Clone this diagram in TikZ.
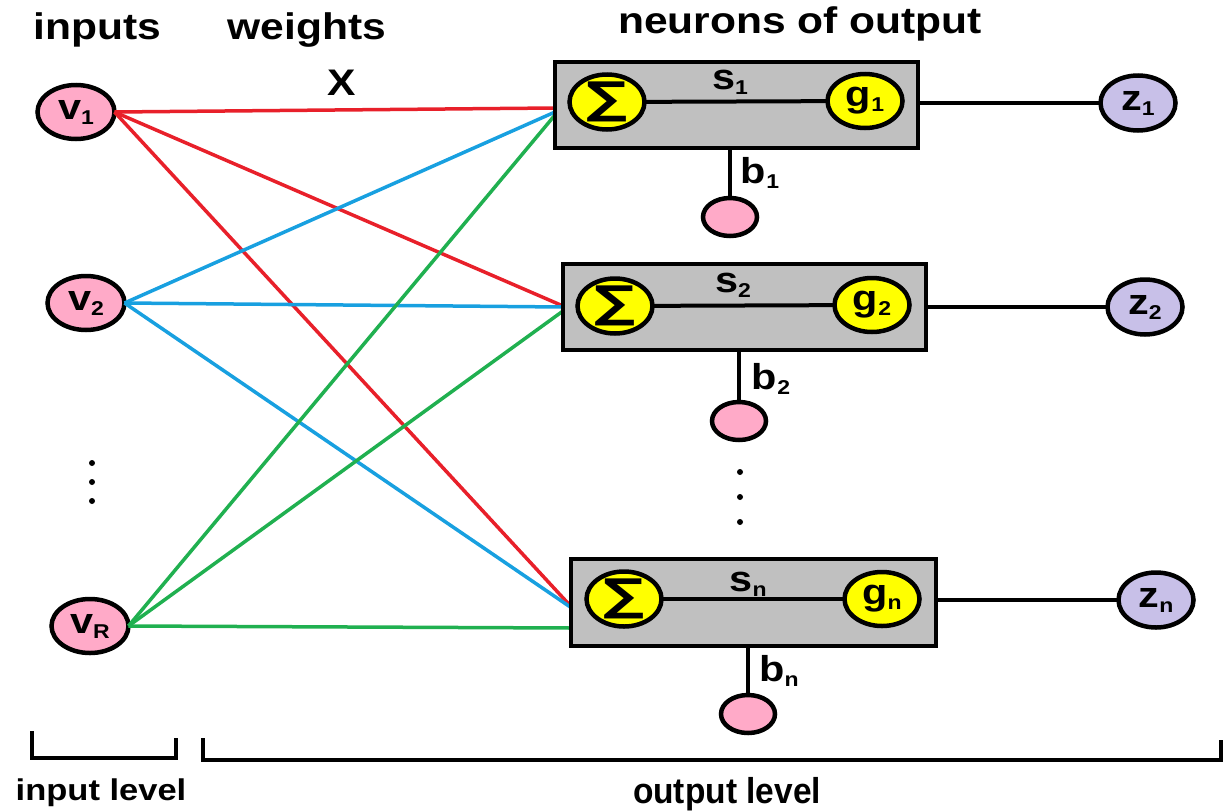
\documentclass[tikz,border=0pt]{standalone}
\usepackage{fontspec}
\setmainfont[FakeStretch=1.15]{Liberation Sans}
\newfontfamily\condfont[FakeStretch=0.93]{Liberation Sans}
\newfontfamily\symfont[FakeStretch=1.3]{DejaVu Sans}
\usetikzlibrary{shapes.geometric,calc}
\definecolor{vpink}{RGB}{255,170,200}
\definecolor{zlav}{RGB}{200,192,232}
\definecolor{yel}{RGB}{255,255,0}
\definecolor{boxgray}{RGB}{192,192,192}
\definecolor{lred}{RGB}{232,32,42}
\definecolor{lblue}{RGB}{24,160,224}
\definecolor{lgreen}{RGB}{32,176,80}
\newcommand\vsub[2]{#1\raisebox{-5pt}{\fontsize{20}{20}\selectfont #2}}
\begin{document}
\begin{tikzpicture}[x=1pt,y=-1pt,
  every node/.style={inner sep=0pt, outer sep=0pt},
  lab/.style={font=\fontsize{36}{38}\selectfont\bfseries},
  innode/.style={ellipse, draw, line width=4.5pt, fill=vpink, minimum width=77pt, minimum height=54pt, lab},
  outnode/.style={ellipse, draw, line width=4.5pt, fill=zlav, minimum width=75pt, minimum height=55pt, lab},
  sumnode/.style={ellipse, draw, line width=4.5pt, fill=yel, minimum width=75pt, minimum height=55pt},
  actnode/.style={ellipse, draw, line width=4.5pt, fill=yel, minimum width=75pt, minimum height=54pt, lab},
  biasnode/.style={ellipse, draw, line width=4.5pt, fill=vpink, minimum width=54pt, minimum height=38pt},
  neuronbox/.style={rectangle, draw, line width=4.5pt, fill=boxgray, minimum width=363pt, minimum height=86pt},
  conn/.style={line width=3.5pt},
  wire/.style={line width=4pt},
  dot/.style={circle, fill=black, minimum size=6pt},
  headtext/.style={font=\fontsize{37}{40}\selectfont\bfseries},
  sigmatext/.style={font=\symfont\bfseries\fontsize{44}{44}\selectfont},
  bracket/.style={line width=4.5pt}]
\useasboundingbox (0,0) rectangle (1230,811);

% headers
\node[headtext] (hin) at (97,30) {inputs};
\node[headtext] (hw) at (307,30) {weights};
\node[headtext] (hno) at (800,24) {neurons of output};
\node[headtext] (hx) at (342,83) {X};

% inputs
\node[innode] (v1) at (76,112) {\vsub{v}{1}};
\node[innode] (v2) at (86,303) {\vsub{v}{2}};
\node[innode] (vR) at (90,626) {\vsub{v}{R}};
\node[dot] (ld1) at (92,463) {};
\node[dot] (ld2) at (92,482) {};
\node[dot] (ld3) at (92,501) {};

% neuron box positions
\coordinate (c1) at (736.5,105);
\coordinate (c2) at (744.5,307);
\coordinate (cn) at (753.5,602.5);
\path (c1) node[neuronbox, draw=none, fill=none] (box1) {};
\path (c2) node[neuronbox, draw=none, fill=none] (box2) {};
\path (cn) node[neuronbox, draw=none, fill=none, minimum width=365pt, minimum height=87pt] (boxn) {};

% weighted connectors
\draw[conn, lred] (v1.east) -- ([yshift=-3pt]box1.west);
\draw[conn, lred] (v1.east) -- ([yshift=1pt]box2.west);
\draw[conn, lred] (v1.east) -- ([yshift=-4pt]boxn.west);
\draw[conn, lblue] (v2.east) -- ([yshift=-7pt]box1.west);
\draw[conn, lblue] (v2.east) -- (box2.west);
\draw[conn, lblue] (v2.east) -- ([yshift=-5pt]boxn.west);
\draw[conn, lgreen] (vR.east) -- ([yshift=-10pt]box1.west);
\draw[conn, lgreen] (vR.east) -- ([yshift=-4pt]box2.west);
\draw[conn, lgreen] (vR.east) -- ([yshift=-25.5pt]boxn.west);

% boxes
\node[neuronbox] (b1box) at (c1) {};
\node[neuronbox] (b2box) at (c2) {};
\node[neuronbox, minimum width=365pt, minimum height=87pt] (bnbox) at (cn) {};

% neuron 1
\node[sumnode] (sig1) at (607,102) {};
\node[sigmatext] (sig1t) at (sig1) {∑};
\node[actnode] (g1) at (865,101) {\vsub{g}{1}};
\draw[wire] (sig1) -- (g1);
\node[lab] (s1) at (730,82) {\vsub{s}{1}};
\node[biasnode] (bias1) at (730,217) {};
\draw[wire] (bias1) -- (bias1 |- b1box.south);
\node[lab] (bl1) at (760,173) {\vsub{b}{1}};
\node[outnode] (z1) at (1138,103) {\vsub{z}{1}};
\draw[conn] (b1box.east |- z1) -- (z1);

% neuron 2
\node[sumnode] (sig2) at (615,306) {};
\node[sigmatext] (sig2t) at (sig2) {∑};
\node[actnode] (g2) at (872,305) {\vsub{g}{2}};
\draw[wire] (sig2) -- (g2);
\node[lab] (s2) at (733,285) {\vsub{s}{2}};
\node[biasnode] (bias2) at (739,421) {};
\draw[wire] (bias2) -- (bias2 |- b2box.south);
\node[lab] (bl2) at (771,379) {\vsub{b}{2}};
\node[outnode] (z2) at (1145,307) {\vsub{z}{2}};
\draw[conn] (b2box.east |- z2) -- (z2);

\node[dot] (md1) at (740,472) {};
\node[dot] (md2) at (740,497) {};
\node[dot] (md3) at (740,522) {};

% neuron n
\node[sumnode] (sign) at (624,599) {};
\node[sigmatext] (signt) at (sign) {∑};
\node[actnode] (gn) at (882,599) {\vsub{g}{n}};
\draw[wire] (sign) -- (gn);
\node[lab] (sn) at (748,584) {\vsub{s}{n}};
\node[biasnode] (biasn) at (748,714) {};
\draw[wire] (biasn) -- (biasn |- bnbox.south);
\node[lab] (bln) at (779,671) {\vsub{b}{n}};
\node[outnode] (zn) at (1156,600) {\vsub{z}{n}};
\draw[conn] (bnbox.east |- zn) -- (zn);

% brackets
\draw[bracket] (32,731) -- (32,758) -- (176,758) -- (176,738);
\draw[bracket] (203,738) -- (203,760) -- (1221,760) -- (1221,740);
\node[font=\fontsize{30}{32}\selectfont\bfseries] (lin) at (101,793) {input level};
\node[font=\condfont\bfseries\fontsize{36}{38}\selectfont] (lout) at (727,794) {output level};
\end{tikzpicture}
\end{document}
